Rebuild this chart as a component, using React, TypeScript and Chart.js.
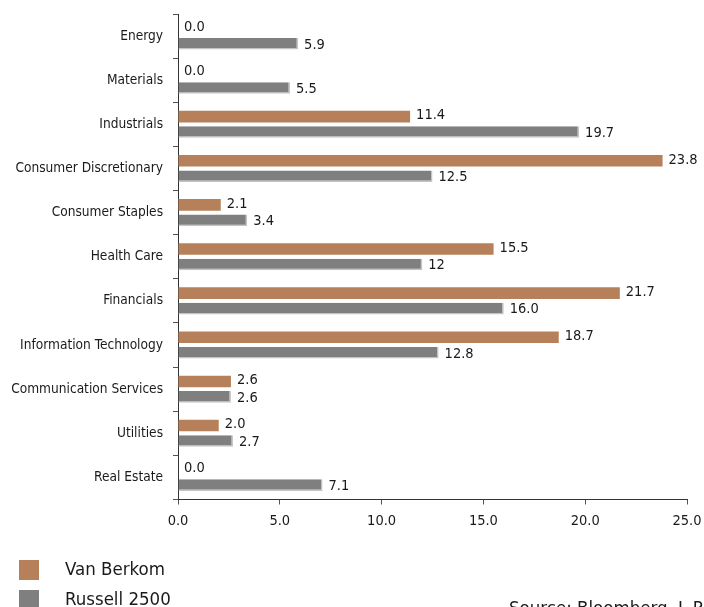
import React, { useEffect, useRef } from "react";
import { Chart, registerables } from "chart.js";

Chart.register(...registerables);

const categories = [
  "Energy",
  "Materials",
  "Industrials",
  "Consumer Discretionary",
  "Consumer Staples",
  "Health Care",
  "Financials",
  "Information Technology",
  "Communication Services",
  "Utilities",
  "Real Estate",
];
const vanBerkom = [0.0, 0.0, 11.4, 23.8, 2.1, 15.5, 21.7, 18.7, 2.6, 2.0, 0.0];
const russell2500 = [5.9, 5.5, 19.7, 12.5, 3.4, 12, 16.0, 12.8, 2.6, 2.7, 7.1];
const russellLabels = ["5.9", "5.5", "19.7", "12.5", "3.4", "12", "16.0", "12.8", "2.6", "2.7", "7.1"];
const vanBerkomLabels = ["0.0", "0.0", "11.4", "23.8", "2.1", "15.5", "21.7", "18.7", "2.6", "2.0", "0.0"];
const seriesNames = ["Van Berkom", "Russell 2500"];
const sourceText = "Source: Bloomberg, L.P.";

const FONT = "'DejaVu Sans Condensed', 'Liberation Sans Narrow', sans-serif";
const ORANGE = "#b5805a";
const GRAY = "#7f7f7f";
const TEXT = "#1a1a1a";

const labelsPlugin = {
  id: "valueLabels",
  afterDatasetsDraw(chart: any) {
    const ctx = chart.ctx;
    ctx.save();
    ctx.font = `14.5px ${FONT}`;
    ctx.fillStyle = TEXT;
    ctx.textBaseline = "middle";
    ctx.textAlign = "left";
    chart.data.datasets.forEach((ds: any, di: number) => {
      const meta = chart.getDatasetMeta(di);
      meta.data.forEach((el: any, i: number) => {
        const txt = ds.valueLabels[i];
        ctx.fillText(txt, el.x + 6, el.y + (di === 0 ? -1 : 1));
      });
    });
    ctx.restore();
  },
};

const legendPlugin = {
  id: "customLegend",
  afterDraw(chart: any) {
    const ctx = chart.ctx;
    ctx.save();
    ctx.font = `18.5px ${FONT}`;
    ctx.textBaseline = "middle";
    ctx.textAlign = "left";
    chart.data.datasets.forEach((ds: any, di: number) => {
      const y = 560 + di * 30;
      ctx.fillStyle = ds.backgroundColor;
      ctx.fillRect(19, y, 20, 20);
      ctx.fillStyle = TEXT;
      ctx.fillText(ds.label, 65, y + 10);
    });
    ctx.textBaseline = "alphabetic";
    ctx.fillText(sourceText, 509, 614);
    ctx.restore();
  },
};

export default function App() {
  const ref = useRef<HTMLCanvasElement>(null);
  useEffect(() => {
    if (!ref.current) return;
    const chart = new Chart(ref.current, {
      type: "bar",
      data: {
        labels: categories,
        datasets: [
          {
            label: seriesNames[0],
            data: vanBerkom,
            backgroundColor: ORANGE,
            borderWidth: 0,
            categoryPercentage: 0.7,
            barPercentage: 0.75,
            valueLabels: vanBerkomLabels,
          } as any,
          {
            label: seriesNames[1],
            data: russell2500,
            backgroundColor: GRAY,
            borderColor: "#c4c4c4",
            borderWidth: { top: 0, left: 0, right: 1.5, bottom: 1.5 },
            borderSkipped: "start",
            categoryPercentage: 0.7,
            barPercentage: 0.75,
            valueLabels: russellLabels,
          } as any,
        ],
      },
      options: {
        indexAxis: "y",
        animation: false,
        responsive: false,
        maintainAspectRatio: false,
        layout: { padding: { left: 0, right: 17, top: 14, bottom: 77.5 } },
        plugins: {
          legend: { display: false },
          tooltip: { enabled: false },
        },
        scales: {
          x: {
            min: 0,
            max: 25,
            ticks: {
              stepSize: 5,
              font: { family: FONT, size: 14.5 },
              color: TEXT,
              padding: 8,
              callback: (v: any) => Number(v).toFixed(1),
            },
            grid: {
              drawOnChartArea: false,
              drawTicks: true,
              tickLength: 5,
              color: "#555",
            },
            border: { color: "#333", width: 1 },
            afterFit: (s: any) => {
              s.height = 30;
              s.paddingLeft = 0;
              s.paddingRight = 0;
            },
          },
          y: {
            ticks: {
              font: { family: FONT, size: 13.6 },
              color: TEXT,
              padding: 10,
            },
            grid: {
              drawOnChartArea: false,
              drawTicks: true,
              tickLength: 5,
              color: "#555",
              offset: true,
            },
            border: { color: "#333", width: 1 },
            afterFit: (s: any) => {
              s.width = 178;
              s.paddingTop = 0;
              s.paddingBottom = 0;
            },
          },
        },
      },
      plugins: [labelsPlugin, legendPlugin],
    });
    return () => chart.destroy();
  }, []);
  return (
    <div style={{ position: "fixed", left: 0, top: 0, width: 704, height: 607, background: "#fff" }}>
      <canvas ref={ref} width={704} height={607} style={{ width: 704, height: 607 }} />
    </div>
  );
}
